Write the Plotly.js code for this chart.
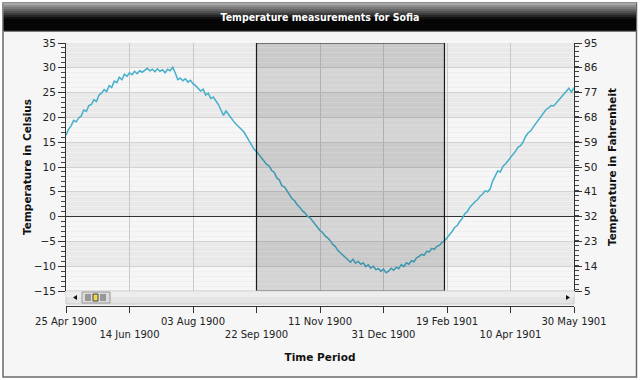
<!DOCTYPE html>
<html>
<head>
<meta charset="utf-8">
<script src="https://cdn.plot.ly/plotly-3.0.1.min.js"></script>
<style>html,body{margin:0;padding:0;background:#fff;}#chart{width:640px;height:380px;}</style>
</head>
<body>
<div id="chart"></div>
<script>
// ---------- data ----------
const chartTitle = 'Temperature measurements for Sofia';
const startDate = '1900-04-25';
const stepDays = 2;
// temperature readings (°C), one every 2 days
const tempC = [
  16.4, 17.6, 18.3, 19.4, 19.1, 19.9, 20.3, 21.5, 21.2, 22.4,
  22.6, 23.6, 23.2, 24.5, 24.9, 25.6, 25.2, 26.4, 26.0, 27.3,
  27.0, 28.1, 27.6, 28.7, 28.3, 29.0, 28.6, 29.3, 28.8, 29.4,
  29.1, 29.6, 29.9, 29.4, 29.7, 29.2, 29.8, 29.3, 29.6, 29.0,
  29.7, 29.4, 30.1, 29.0, 27.6, 27.9, 27.4, 27.8, 27.1, 27.5,
  26.8, 26.4, 25.9, 25.3, 25.7, 24.5, 24.9, 23.8, 24.1, 23.3,
  22.6, 21.5, 20.4, 21.3, 20.6, 19.7, 19.2, 18.6, 18.0, 17.6,
  17.1, 16.2, 15.4, 14.2, 13.6, 13.1, 12.5, 11.7, 11.2, 10.5,
  10.2, 9.3, 8.9, 7.8, 7.4, 6.2, 6.0, 5.1, 4.3, 3.6,
  3.2, 2.4, 1.9, 1.2, 0.8, 0.1, -0.2, -0.9, -1.6, -2.1,
  -2.8, -3.2, -3.9, -4.3, -4.8, -5.6, -6.0, -6.8, -7.3, -7.9,
  -8.3, -8.9, -9.2, -8.6, -9.4, -9.0, -9.6, -9.3, -10.1, -9.7,
  -10.4, -10.0, -10.7, -10.5, -11.0, -10.6, -11.3, -11.0, -10.4, -10.8,
  -10.2, -10.5, -9.7, -10.1, -9.3, -9.6, -8.9, -9.1, -8.3, -8.0,
  -7.6, -7.8, -7.0, -7.1, -6.4, -6.6, -6.0, -5.8, -5.2, -4.9,
  -4.3, -3.7, -3.0, -2.2, -1.8, -1.0, -0.4, 0.6, 1.0, 1.9,
  2.5, 3.0, 3.4, 4.1, 4.5, 5.2, 5.0, 5.6, 7.2, 8.1,
  9.2, 9.0, 10.1, 10.6, 11.2, 12.0, 12.6, 13.2, 14.0, 14.3,
  15.1, 16.2, 16.9, 17.3, 18.1, 18.8, 19.4, 20.3, 20.9, 21.6,
  21.9, 22.4, 22.3, 22.9, 23.6, 24.2, 24.8, 25.4, 25.9, 25.1, 26.0
];
const xRange = ['1900-04-25', '1901-05-30'];
const tickDates = ['1900-04-25','1900-06-14','1900-08-03','1900-09-22','1900-11-11','1900-12-31','1901-02-19','1901-04-10','1901-05-30'];
const tickLabels = ['25 Apr 1900','14 Jun 1900','03 Aug 1900','22 Sep 1900','11 Nov 1900','31 Dec 1900','19 Feb 1901','10 Apr 1901','30 May 1901'];
const celsiusRange = [-15, 35];
const fahrenheitRange = [5, 95];
const highlight = ['1900-09-22', '1901-02-17'];
const bands = [[30,35],[20,25],[10,15],[0,5],[-10,-5]];

// ---------- build dates ----------
const dates = tempC.map((_, i) => {
  const d = new Date(startDate + 'T00:00:00Z');
  d.setUTCDate(d.getUTCDate() + i * stepDays);
  return d.toISOString().slice(0, 10);
});

// ---------- layout helpers (pixel -> paper) ----------
const L = 66, R = 574, T = 43, B = 306, W = 640, H = 380;
const px = x => (x - L) / (R - L);
const py = y => (B - y) / (B - T);
const plotBottom = 291;
const yDomain = [py(plotBottom), 1];

const shapes = [];
// outer panel
shapes.push({type:'rect', xref:'paper', yref:'paper', x0:px(3), x1:px(636.5), y0:py(377), y1:py(3),
  fillcolor:'#f6f6f6', line:{color:'#6a6a6a', width:1.5}, layer:'below'});
// title bar gradient
const grad = [['#a8a8a8',3,5],['#8e8e8e',5,7],['#7a7a7a',7,9],['#666',9,11],['#525252',11,13],['#3c3c3c',13,15],['#262626',15,17],['#111',17,19],['#050505',19,30],['#1c1c1c',30,31],['#7a7a7a',31,32]];
grad.forEach(g => shapes.push({type:'rect', xref:'paper', yref:'paper', x0:px(3.5), x1:px(636), y0:py(g[2]), y1:py(g[1]),
  fillcolor:g[0], line:{width:0}, layer:'below'}));
// horizontal bands
bands.forEach(b => shapes.push({type:'rect', xref:'paper', yref:'y', x0:0, x1:1, y0:b[0], y1:b[1],
  fillcolor:'#e9e9e9', line:{width:0}, layer:'below'}));
// highlighted period
shapes.push({type:'rect', xref:'x', yref:'y', x0:highlight[0], x1:highlight[1], y0:celsiusRange[0], y1:celsiusRange[1],
  fillcolor:'rgba(0,0,0,0.13)', line:{color:'#1a1a1a', width:1.2}, layer:'above'});
// scrollbar
shapes.push({type:'rect', xref:'paper', yref:'paper', x0:px(66), x1:px(574), y0:py(304), y1:py(291),
  fillcolor:'#e4e4e4', line:{color:'#c8c8c8', width:1}, layer:'above'});
shapes.push({type:'rect', xref:'paper', yref:'paper', x0:px(66), x1:px(574), y0:py(297), y1:py(291.5),
  fillcolor:'#ededed', line:{width:0}, layer:'above'});
shapes.push({type:'rect', xref:'paper', yref:'paper', x0:px(82), x1:px(110), y0:py(303), y1:py(292),
  fillcolor:'#dcdcdc', line:{color:'#9a9a9a', width:1}, layer:'above'});
shapes.push({type:'path', xref:'paper', yref:'paper',
  path:`M ${px(73)} ${py(297.5)} L ${px(77)} ${py(295)} L ${px(77)} ${py(300)} Z`, fillcolor:'#111', line:{width:0}, layer:'above'});
shapes.push({type:'path', xref:'paper', yref:'paper',
  path:`M ${px(570)} ${py(297.5)} L ${px(566)} ${py(295)} L ${px(566)} ${py(300)} Z`, fillcolor:'#111', line:{width:0}, layer:'above'});
[86,88,90,101,103,105].forEach(x => shapes.push({type:'line', xref:'paper', yref:'paper', x0:px(x), x1:px(x), y0:py(301), y1:py(294),
  line:{color:'#555', width:1}, layer:'above'}));
shapes.push({type:'rect', xref:'paper', yref:'paper', x0:px(93), x1:px(98), y0:py(301), y1:py(294),
  fillcolor:'#f2d64b', line:{color:'#444', width:1}, layer:'above'});

const font = 'DejaVu Sans, Verdana, sans-serif';

const trace = {
  x: dates, y: tempC, type:'scatter', mode:'lines',
  line:{color:'#45aec9', width:1.5}, hoverinfo:'skip', yaxis:'y'
};
const trace2 = { x:[dates[0]], y:[fahrenheitRange[0]], type:'scatter', mode:'markers',
  marker:{opacity:0}, yaxis:'y2', hoverinfo:'skip', showlegend:false };

const layout = {
  width:W, height:H,
  margin:{l:L, r:W-R, t:T, b:H-B, pad:0},
  paper_bgcolor:'#ffffff', plot_bgcolor:'#ffffff',
  showlegend:false,
  title:{text:'<b>'+chartTitle+'</b>', font:{family:'DejaVu Sans Condensed, DejaVu Sans, sans-serif', size:10.5, color:'#ffffff'},
    x:0.5, xanchor:'center', xref:'paper', y:1-17.5/H, yref:'container', yanchor:'middle'},
  xaxis:{
    type:'date', range:xRange, anchor:'free', position:0, domain:[0,1],
    tickmode:'array', tickvals:tickDates,
    ticktext:tickLabels.map((t,i)=> i%2 ? '<br>'+t : t),
    tickangle:0,
    ticks:'outside', ticklen:6, tickcolor:'#333', tickwidth:1,
    showline:true, linecolor:'#333', linewidth:1,
    showgrid:true, gridcolor:'#c9c9c9', gridwidth:1, zeroline:false,
    tickfont:{family:font, size:10, color:'#222'},
    title:{text:'<b>Time Period</b>', font:{family:font, size:10.5, color:'#111'}, standoff:14}
  },
  yaxis:{
    range:celsiusRange, domain:yDomain, anchor:'x', side:'left',
    tickmode:'linear', tick0:-15, dtick:5,
    ticks:'outside', ticklen:7, tickcolor:'#333',
    minor:{dtick:1, ticks:'outside', ticklen:4, tickcolor:'#444', showgrid:true, gridcolor:'#f0f0f0', gridwidth:1},
    showline:true, linecolor:'#333', linewidth:1,
    showgrid:true, gridcolor:'#d2d2d2', gridwidth:1,
    zeroline:true, zerolinecolor:'#333', zerolinewidth:1,
    tickfont:{family:font, size:10.5, color:'#222'},
    title:{text:'<b>Temperature in Celsius</b>', font:{family:font, size:10.5, color:'#111'}, standoff:0}
  },
  yaxis2:{
    range:fahrenheitRange, domain:yDomain, overlaying:'y', anchor:'x', side:'right',
    tickmode:'linear', tick0:5, dtick:9,
    ticks:'outside', ticklen:7, tickcolor:'#333',
    minor:{dtick:1.8, ticks:'outside', ticklen:4, tickcolor:'#444', showgrid:false},
    showline:true, linecolor:'#333', linewidth:1,
    showgrid:false, zeroline:false,
    tickfont:{family:font, size:10.5, color:'#222'},
    title:{text:'<b>Temperature in Fahrenheit</b>', font:{family:font, size:10.5, color:'#111'}, standoff:11}
  },
  shapes:shapes
};

Plotly.newPlot('chart', [trace, trace2], layout, {staticPlot:true, displayModeBar:false});
</script>
</body>
</html>
